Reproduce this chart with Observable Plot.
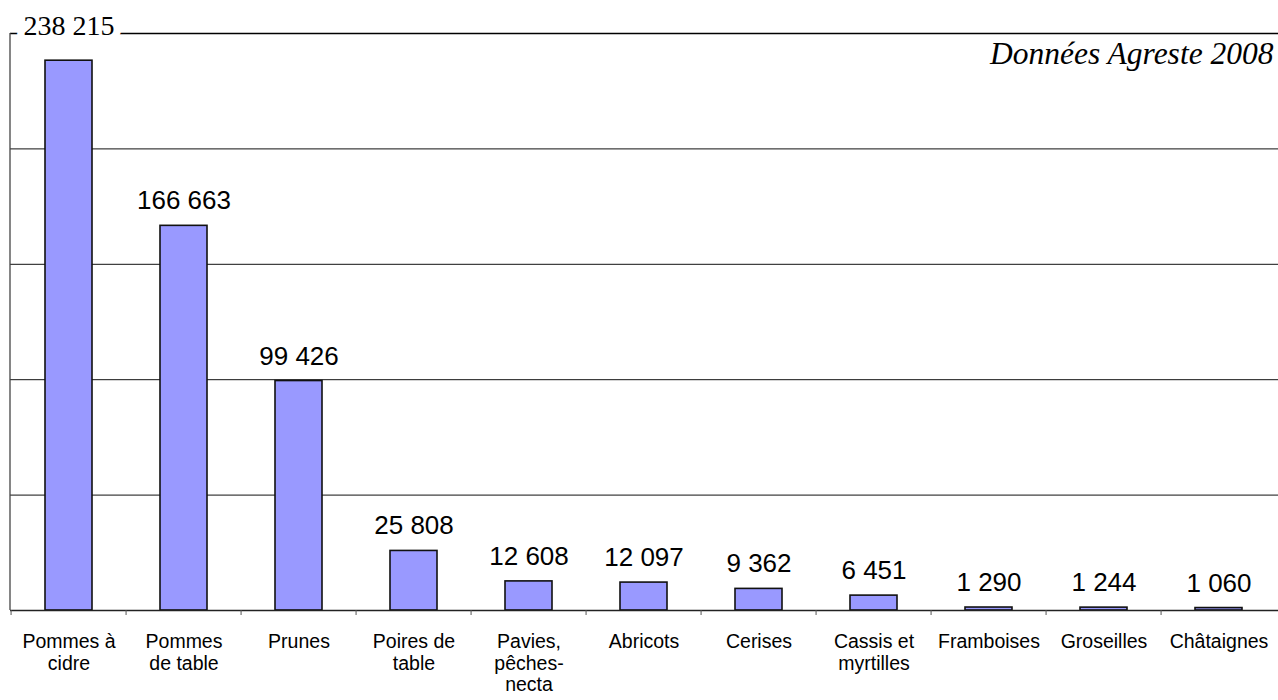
<!DOCTYPE html>
<html>
<head>
<meta charset="utf-8">
<script src="https://cdn.jsdelivr.net/npm/d3@7"></script>
<script src="https://cdn.jsdelivr.net/npm/@observablehq/plot@0.6"></script>
<style>
  html, body { margin: 0; padding: 0; background: #fff; }
  #chart { width: 1278px; height: 700px; overflow: hidden; }
</style>
</head>
<body>
<div id="chart"></div>
<script>
// ---- data ----
const categories = ["Pommes à\ncidre", "Pommes\nde table", "Prunes", "Poires de\ntable", "Pavies,\npêches-\nnecta", "Abricots", "Cerises", "Cassis et\nmyrtilles", "Framboises", "Groseilles", "Châtaignes"];
const values = [238215, 166663, 99426, 25808, 12608, 12097, 9362, 6451, 1290, 1244, 1060];
const gridValues = [50000, 100000, 150000, 200000];
const topValue = 250000;
const sourceNote = "Données Agreste 2008";

const data = categories.map((c, i) => ({c, v: values[i]}));
const fr = d3.formatLocale({decimal: ",", thousands: " ", grouping: [3], currency: ["", ""]});
const fmt = fr.format(",d");
const padInner = 0.59;

const sans = "'Liberation Sans', Arial, Helvetica, sans-serif";
const serif = "'Liberation Serif', 'Times New Roman', serif";

// band boundary ticks + left axis line
function frameMark(index, scales, values, dim) {
  const x = scales.x, y = scales.y;
  const step = x(categories[1]) - x(categories[0]);
  const bw = step * (1 - padInner);
  const g = d3.create("svg:g");
  const y0 = y(0);
  categories.forEach(c => {
    const bx = x(c) + bw / 2 - step / 2;
    g.append("line").attr("x1", bx).attr("x2", bx).attr("y1", y0).attr("y2", y0 + 5)
      .attr("stroke", "#555").attr("stroke-width", 1);
  });
  const lx = dim.marginLeft;
  g.append("line").attr("x1", lx).attr("x2", lx).attr("y1", y(topValue)).attr("y2", y0)
    .attr("stroke", "#444").attr("stroke-width", 1.3);
  return g.node();
}

const chart = Plot.plot({
  width: 1278,
  height: 700,
  marginLeft: 10,
  marginRight: 0,
  marginTop: 33,
  marginBottom: 90,
  style: {background: "#fff", fontFamily: sans},
  x: {domain: categories, paddingInner: padInner, paddingOuter: padInner / 2, axis: null},
  y: {domain: [0, topValue], axis: null},
  marks: [
    Plot.ruleY(gridValues, {stroke: "#111", strokeWidth: 1}),
    Plot.ruleY([topValue], {stroke: "#000", strokeWidth: 1.5}),
    Plot.barY(data, {x: "c", y: "v", fill: "#9999FF", stroke: "#111", strokeWidth: 1.6}),
    Plot.ruleY([0], {stroke: "#222", strokeWidth: 1.5}),
    frameMark,
    // value labels (all but first)
    Plot.text(data.slice(1), {x: "c", y: "v", text: d => fmt(d.v), lineAnchor: "bottom", dy: -16.5,
      fontSize: 26, fontFamily: sans, fill: "#000"}),
    // first label in serif at the top line
    Plot.text(data.slice(0, 1), {x: "c", y: () => topValue, text: d => fmt(d.v), lineAnchor: "bottom", dy: 1,
      fontSize: 28, fontFamily: serif, fill: "#000", stroke: "#fff", strokeWidth: 15}),
    // source note
    Plot.text([sourceNote], {frameAnchor: "top-right", text: d => d, textAnchor: "end", lineAnchor: "bottom",
      dx: -5, dy: 30, fontSize: 31.5, fontFamily: serif, fontStyle: "italic", fill: "#000"}),
    // category labels
    Plot.text(data, {x: "c", text: "c", frameAnchor: "bottom", lineAnchor: "top", dy: 23,
      fontSize: 19.5, lineHeight: 1.08, fontFamily: sans, fill: "#000"})
  ]
});
document.getElementById("chart").appendChild(chart);
</script>
</body>
</html>
